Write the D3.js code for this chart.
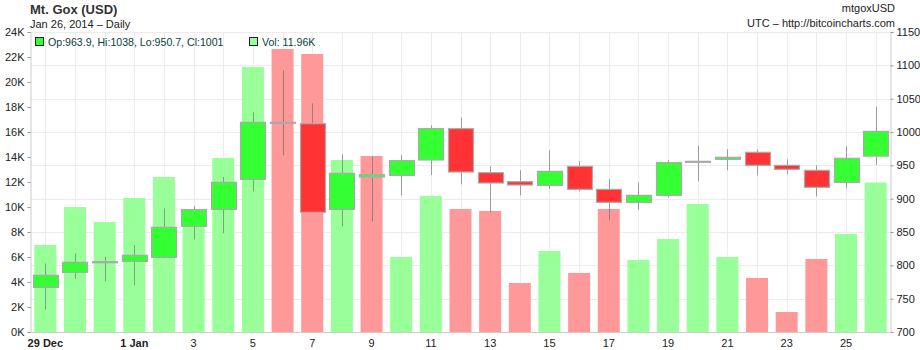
<!DOCTYPE html>
<html>
<head>
<meta charset="utf-8">
<script src="https://cdn.jsdelivr.net/npm/d3@7"></script>
<style>
  body { margin: 0; background: #fff; }
  svg text { font-family: "Liberation Sans", Arial, sans-serif; }
</style>
</head>
<body>
<svg width="920" height="350"></svg>
<script>

// daily candles, mtgoxUSD, 29 Dec 2013 - 26 Jan 2014
let dates = ["2013-12-29","2013-12-30","2013-12-31","2014-01-01","2014-01-02","2014-01-03","2014-01-04",
  "2014-01-05","2014-01-06","2014-01-07","2014-01-08","2014-01-09","2014-01-10","2014-01-11","2014-01-12",
  "2014-01-13","2014-01-14","2014-01-15","2014-01-16","2014-01-17","2014-01-18","2014-01-19","2014-01-20",
  "2014-01-21","2014-01-22","2014-01-23","2014-01-24","2014-01-25","2014-01-26"];

let open  = [767, 789.5, 805.5, 806, 812, 858.5, 884, 929, 1014.5, 1012.5, 884, 932.5, 935, 958, 1005,
  939, 925.5, 920, 948.5, 914, 894.5, 905, 955, 959, 969.5, 950, 942.5, 924.5, 963.9];
let high  = [803, 818, 813, 830, 885.5, 889, 932.5, 1029.5, 1092.5, 1043, 966.5, 963, 965, 1010, 1022,
  948.5, 942.5, 972.5, 956.5, 929, 924.5, 958, 980, 974, 974, 959, 950, 978.5, 1038];
let low   = [734, 780, 776, 770, 810.5, 839, 848, 911, 965, 879, 858.5, 866, 905, 935.5, 921.5,
  879.5, 905, 914.5, 911, 867.5, 884, 902, 926, 942.5, 935, 936.5, 903.5, 915.5, 950.7];
let close = [785, 804.5, 805.5, 815, 857, 883.5, 924.5, 1014.5, 1014, 879.5, 938, 936, 957, 1005, 940,
  923.5, 920.5, 941, 914, 894.5, 905, 954, 956, 962, 950, 944, 917, 960.5, 1001];
let volume = [6960, 10000, 8800, 10720, 12400, 9800, 13920, 21200, 22640, 22240, 13760, 14080, 6000, 10880, 9840,
  9680, 3920, 6480, 4720, 9840, 5760, 7440, 10240, 6000, 4320, 1600, 5840, 7840, 11960];

let xTicks = ["2013-12-29","2014-01-01","2014-01-03","2014-01-05","2014-01-07","2014-01-09","2014-01-11",
  "2014-01-13","2014-01-15","2014-01-17","2014-01-19","2014-01-21","2014-01-23","2014-01-25"];
let volTicks = [0, 2000, 4000, 6000, 8000, 10000, 12000, 14000, 16000, 18000, 20000, 22000, 24000];
let priceTicks = [700, 750, 800, 850, 900, 950, 1000, 1050, 1100, 1150];

let svg = d3.select("svg"),
  pLeft = 30.5, pRight = 890.5, pTop = 32, pBottom = 332;

let parse = d3.timeParse("%Y-%m-%d");
let data = dates.map((d, i) => ({
  date: d, o: open[i], h: high[i], l: low[i], c: close[i], v: volume[i],
  up: close[i] >= open[i],
  volUp: i == 0 ? close[i] >= open[i] : close[i] >= close[i - 1]
}));

let x = d3.scaleBand().domain(dates).range([pLeft, pRight]).padding(0);
let cx = d => x(d) + x.bandwidth() / 2;
let yVol = d3.scaleLinear().domain([0, 24000]).range([pBottom, pTop]);
let yPrice = d3.scaleLinear().domain([700, 1150]).range([pBottom, pTop]);

// grid
svg.append("g").selectAll("line")
  .data(dates).enter().append("line")
  .attr("x1", d => Math.round(cx(d)) + 0.5).attr("x2", d => Math.round(cx(d)) + 0.5)
  .attr("y1", pTop).attr("y2", pBottom)
  .attr("stroke", "#ececec");
svg.append("g").selectAll("line")
  .data(priceTicks.slice(1)).enter().append("line")
  .attr("x1", pLeft).attr("x2", pRight)
  .attr("y1", d => Math.round(yPrice(d)) + 0.5).attr("y2", d => Math.round(yPrice(d)) + 0.5)
  .attr("stroke", "#ececec");

// volume bars
svg.append("g").selectAll("rect")
  .data(data).enter().append("rect")
  .attr("x", d => cx(d.date) - 11)
  .attr("width", 22)
  .attr("y", d => yVol(d.v))
  .attr("height", d => pBottom - yVol(d.v))
  .attr("fill", d => d.volUp ? "#99ff99" : "#ff9999");

// wicks
svg.append("g").selectAll("line")
  .data(data).enter().append("line")
  .attr("x1", d => Math.round(cx(d.date)) + 0.5).attr("x2", d => Math.round(cx(d.date)) + 0.5)
  .attr("y1", d => yPrice(d.h)).attr("y2", d => yPrice(d.l))
  .attr("stroke", "#666").attr("stroke-opacity", 0.6);

// bodies
svg.append("g").selectAll("rect")
  .data(data).enter().append("rect")
  .attr("x", d => Math.round(cx(d.date) - 12.5) + 0.5)
  .attr("width", 25)
  .attr("y", d => yPrice(Math.max(d.o, d.c)))
  .attr("height", d => Math.max(1, Math.abs(yPrice(d.o) - yPrice(d.c))))
  .attr("fill", d => d.up ? "#33ff33" : "#ff3333")
  .attr("stroke", "#aaaaaa").attr("stroke-width", 1.2);

// axes
let axL = d3.axisLeft(yVol).tickValues(volTicks).tickSize(3).tickFormat(d => (d / 1000) + "K");
let axR = d3.axisRight(yPrice).tickValues(priceTicks).tickSize(3).tickPadding(3).tickFormat(d3.format("d"));
let fmtDay = d3.timeFormat("%-d"), fmtMon = d3.timeFormat("%-d %b");
let isMon = (d, i) => i == 0 || parse(d).getDate() == 1;
let axB = d3.axisBottom(x).tickValues(xTicks).tickSize(0)
  .tickFormat((d, i) => isMon(d, i) ? fmtMon(parse(d)) : fmtDay(parse(d)));

function styleAxis(g) {
  g.select(".domain").attr("stroke", "#cccccc");
  g.selectAll(".tick line").attr("stroke", "#999");
  g.selectAll(".tick text").attr("fill", "#222").style("font-size", "11px");
}
svg.append("g").attr("transform", `translate(${pLeft},0)`).call(axL).call(styleAxis);
svg.append("g").attr("transform", `translate(${pRight},0)`).call(axR).call(styleAxis);
svg.append("g").attr("transform", `translate(0,${pBottom})`).call(axB).call(styleAxis)
  .call(g => g.selectAll(".tick text").attr("dy", "1.1em")
    .style("font-weight", (d, i) => isMon(d, i) ? "bold" : "normal"));

// header
svg.append("text").attr("x", 30).attr("y", 14).text("Mt. Gox (USD)")
  .style("font-size", "13px").style("font-weight", "bold").attr("fill", "#333");
svg.append("text").attr("x", 30).attr("y", 28).text("Jan 26, 2014 \u2013 Daily")
  .style("font-size", "11px").attr("fill", "#222");
svg.append("text").attr("x", 895).attr("y", 12).attr("text-anchor", "end").text("mtgoxUSD")
  .style("font-size", "11px").attr("fill", "#222");
svg.append("text").attr("x", 895).attr("y", 27).attr("text-anchor", "end").text("UTC \u2013 http://bitcoincharts.com")
  .style("font-size", "11px").attr("fill", "#222");

// legend
let last = data[data.length - 1];
let legend = [
  { x: 35, fill: "#33ff33", text: `Op:${last.o}, Hi:${last.h}, Lo:${last.l}, Cl:${last.c}` },
  { x: 249, fill: "#99ff99", text: "Vol: " + d3.format(".2f")(last.v / 1000) + "K" }
];
let lg = svg.append("g").selectAll("g").data(legend).enter().append("g")
  .attr("transform", d => `translate(${d.x},37)`);
lg.append("rect").attr("x", 0.5).attr("y", 0.5).attr("width", 8).attr("height", 8)
  .attr("fill", d => d.fill).attr("stroke", "#222");
lg.append("text").attr("x", 13).attr("y", 8.5).text(d => d.text)
  .style("font-size", "10.6px").attr("fill", "#0a4040");

</script>
</body>
</html>
